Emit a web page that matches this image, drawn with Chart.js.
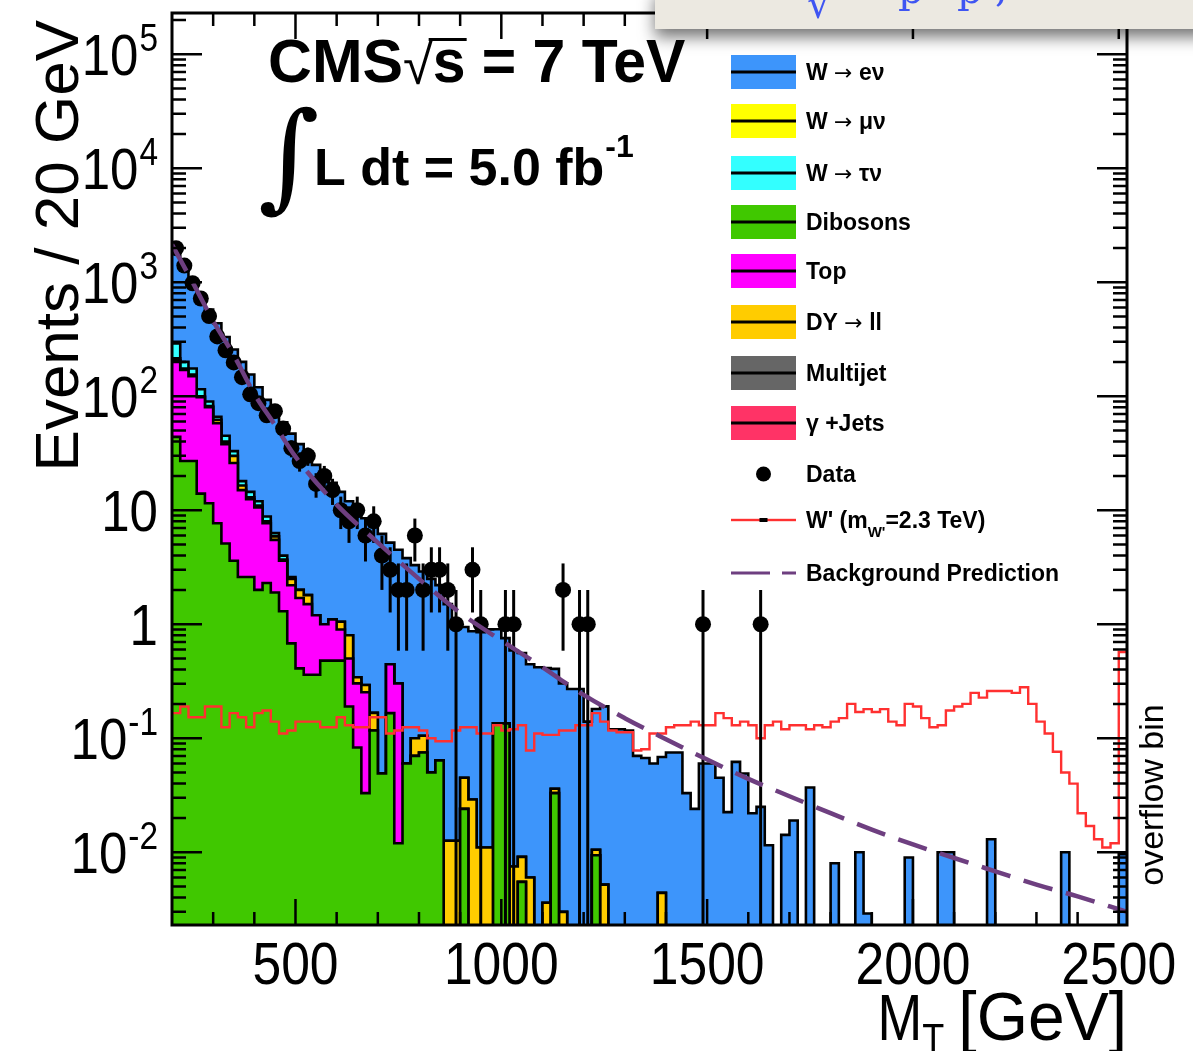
<!DOCTYPE html>
<html>
<head>
<meta charset="utf-8">
<script src="https://cdn.jsdelivr.net/npm/chart.js@4.4.1/dist/chart.umd.min.js"></script>
<style>
  html, body { margin: 0; padding: 0; background: #fff; }
  #wrap { position: relative; width: 1193px; height: 1051px; overflow: hidden; }
  #mt { position: absolute; left: 0; top: 0; }
  #slide {
    position: absolute; left: 655px; top: -12px; width: 560px; height: 41px;
    background: #ece9e1; box-shadow: 0 8px 16px rgba(0,0,0,0.55); overflow: hidden;
  }
  #slide span { position: absolute; color: #3f55f2; font-family: 'DejaVu Serif', serif; font-size: 40px; line-height: 40px; }
</style>
</head>
<body>
<div id="wrap">
  <canvas id="mt" width="1193" height="1051"></canvas>
  <div id="slide">
    <span style="left:152px; top:-4px">√</span>
    <span style="left:243px; top:-19px">p</span>
    <span style="left:302px; top:-19px">p</span>
    <span style="left:340px; top:-21px">,</span>
  </div>
</div>
<script>
// binning: 20 GeV bins from 200 GeV, last bin (2500-2520) holds the overflow
const BIN_LO = 200;
const BIN_W = 20;

const dibosons = [
  44, 27, 27, 14, 11.5, 7.7, 5.1, 3.6, 2.6, 2.6,
  2.0, 2.3, 1.9, 1.3, 0.68, 0.41, 0.36, 0.36, 0.48, 0.48,
  0.48, 0.19, 0.083, 0.033, 0.117, 0.049, 0.166, 0.012, 0.06, 0.07,
  0.075, 0.05, 0.064, 0, 0, 0.024, 0, 0, 0, 0.135,
  0.135, 0, 0.0055, 0, 0, 0, 0.033, 0, 0, 0,
  0, 0.0094, 0, 0, 0, 0, 0, 0, 0, 0,
  0, 0, 0, 0, 0, 0, 0, 0, 0, 0,
  0, 0, 0, 0, 0, 0, 0, 0, 0, 0,
  0, 0, 0, 0, 0, 0, 0, 0, 0, 0,
  0, 0, 0, 0, 0, 0, 0, 0, 0, 0,
  0, 0, 0, 0, 0, 0, 0, 0, 0, 0,
  0, 0, 0, 0, 0, 0
];

const topQuark = [
  163, 143, 123, 84, 68.5, 50.3, 32.9, 22.4, 12.4, 9.9,
  8.6, 5.4, 3.6, 2.3, 1.52, 1.29, 1.14, 0.84, 0.52, 0.62,
  0.42, 0.31, 0.22, 0.22, 0, 0, 0.28, 0.29, 0, 0
];

const dyLL = [
  8, 5, 5, 2, 2, 4, 2, 4, 1.5, 0.5,
  0.4, 0.3, 0.4, 0.1, 0.3, 0.3, 0.3, 0, 0, 0,
  0.15, 0.3, 0.04, 0.04, 0.05, 0, 0, 0, 0, 0.03,
  0.03, 0, 0, 0.0126, 0.0126, 0.021, 0.029, 0.011, 0.011, 0,
  0, 0.0075, 0.0036, 0.006, 0, 0.0036, 0.003, 0.003, 0, 0,
  0, 0.0011, 0.0052, 0, 0, 0, 0, 0, 0, 0.0044
];

const wTauNu = [
  75, 25, 20, 15, 8, 4, 5, 3, 1.5, 1.5,
  1, 0.8, 0.4, 0.3, 0.1
];

const wMuNu = [];
const multijet = [];
const gammaJets = [];

const wENu = [
  1570, 1180, 845, 661, 485, 371, 286, 224, 182, 140.5,
  108, 84.2, 67.7, 55, 44.4, 36, 29.2, 23.8, 20, 16.3,
  13.45, 11.2, 9.66, 8.21, 7.03, 6.15, 4.75, 4.2, 3.74, 3.2,
  2.8, 2.45, 2.14, 1.49, 0.93, 0.9, 0.84, 0.84, 0.89, 0.77,
  0.62, 0.58, 0.55, 0.44, 0.42, 0.41, 0.37, 0.3, 0.27, 0.27,
  0.14, 0.17, 0.185, 0.12, 0.12, 0.117, 0.07, 0.067, 0.06, 0.064,
  0.075, 0.075, 0.033, 0.024, 0.06, 0.06, 0.045, 0.0225, 0.062, 0.049,
  0.022, 0.025, 0.0115, 0, 0.0142, 0.019, 0, 0.037, 0, 0,
  0.008, 0, 0, 0.01, 0.0029, 0, 0, 0, 0, 0.009,
  0, 0, 0, 0.01, 0.01, 0, 0, 0, 0, 0.013,
  0, 0, 0, 0, 0, 0, 0, 0, 0.01, 0,
  0, 0, 0, 0, 0, 0.0096
];

const wPrime = [
  0.166, 0.19, 0.153, 0.153, 0.19, 0.19, 0.125, 0.166, 0.153, 0.125,
  0.166, 0.175, 0.14, 0.11, 0.117, 0.14, 0.14, 0.14, 0.125, 0.125,
  0.153, 0.13, 0.125, 0.125, 0.153, 0.153, 0.11, 0.117, 0.125, 0.125,
  0.117, 0.1, 0.094, 0.094, 0.117, 0.125, 0.125, 0.11, 0.11, 0.13,
  0.117, 0.12, 0.13, 0.078, 0.11, 0.107, 0.107, 0.117, 0.117, 0.13,
  0.13, 0.166, 0.14, 0.117, 0.113, 0.113, 0.078, 0.08, 0.11, 0.11,
  0.125, 0.13, 0.13, 0.14, 0.13, 0.13, 0.166, 0.15, 0.13, 0.14,
  0.13, 0.1, 0.13, 0.14, 0.12, 0.13, 0.13, 0.12, 0.13, 0.125,
  0.14, 0.15, 0.2, 0.17, 0.18, 0.17, 0.18, 0.14, 0.13, 0.2,
  0.19, 0.15, 0.125, 0.13, 0.175, 0.19, 0.2, 0.25, 0.227, 0.26,
  0.26, 0.26, 0.25, 0.28, 0.2, 0.14, 0.11, 0.076, 0.05, 0.04,
  0.022, 0.017, 0.013, 0.011, 0.012, 0.57
];

const dataCounts = [
  1990, 1400, 980, 720, 505, 335, 253, 198, 147, 104,
  87, 68, 74, 52, 35, 27, 30, 17, 20, 15,
  10, 8, 10, 6, 8, 4, 3, 2, 2, 6,
  2, 3, 3, 2, 1, 0, 3, 1, 0, 0,
  1, 1, 0, 0, 0, 0, 0, 2, 0, 1,
  1, 0, 0, 0, 0, 0, 0, 0, 0, 0,
  0, 0, 0, 0, 1, 0, 0, 0, 0, 0,
  0, 1
];

// fitted background prediction, read at a few M_T values
const bkgMt  = [200, 250, 300, 350, 400, 450, 500, 600, 700, 800, 900, 1000, 1100, 1200, 1300,
                1400, 1500, 1600, 1700, 1800, 1900, 2000, 2100, 2200, 2300, 2400, 2520];
const bkgVal = [2140, 1000, 457, 229, 105, 56, 29.5, 11.2, 5.2, 2.5, 1.26, 0.72, 0.42, 0.24, 0.15,
                0.098, 0.065, 0.044, 0.031, 0.022, 0.0158, 0.0117, 0.0089, 0.0068, 0.0052, 0.0041, 0.003];

const xTickLabels = [500, 1000, 1500, 2000, 2500];
const yDecades = [5, 4, 3, 2, 1, 0, -1, -2];

const NB = wPrime.length;
const FLOOR = 1e-6;
const SANS = "'Liberation Sans', Arial, Helvetica, sans-serif";

// stack, bottom to top
const stackParts = [
  { label: 'Dibosons', color: '#40c800', vals: dibosons },
  { label: 'Top', color: '#ff00ff', vals: topQuark },
  { label: 'DY → ll', color: '#ffcc00', vals: dyLL },
  { label: 'W → τν', color: '#33ffff', vals: wTauNu },
  { label: 'W → μν', color: '#ffff00', vals: wMuNu },
  { label: 'Multijet', color: '#666666', vals: multijet },
  { label: 'γ +Jets', color: '#ff3366', vals: gammaJets },
  { label: 'W → eν', color: '#3d95fb', vals: wENu }
];

function stepPoints(vals) {
  const pts = [];
  for (let i = 0; i < NB; i++) {
    const v = vals[i] || 0;
    pts.push({ x: BIN_LO + i * BIN_W, y: v > 0 ? v : FLOOR });
  }
  pts.push({ x: BIN_LO + NB * BIN_W, y: pts[NB - 1].y });
  return pts;
}

const datasets = [];
let running = new Array(NB).fill(0);
stackParts.forEach((p, k) => {
  running = running.map((r, i) => r + (p.vals[i] || 0));
  if (!p.vals.length) return;
  datasets.push({
    label: p.label,
    data: stepPoints(running),
    stepped: 'before',
    fill: 'start',
    backgroundColor: p.color,
    borderColor: '#000',
    borderWidth: 2.6,
    pointRadius: 0,
    order: 20 + k
  });
});

datasets.push({
  label: "W'",
  data: stepPoints(wPrime),
  stepped: 'before',
  fill: false,
  borderColor: '#ff3030',
  borderWidth: 2.4,
  pointRadius: 0,
  order: 5
});

const dataPts = [];
dataCounts.forEach((n, i) => {
  if (n > 0) dataPts.push({ x: BIN_LO + (i + 0.5) * BIN_W, y: n });
});
datasets.push({
  label: 'Data',
  data: dataPts,
  showLine: false,
  pointRadius: 8,
  pointBackgroundColor: '#000',
  pointBorderColor: '#000',
  borderWidth: 0,
  order: 2
});

datasets.push({
  label: 'Background Prediction',
  data: bkgMt.map((m, i) => ({ x: m, y: bkgVal[i] })),
  borderColor: '#6e3f80',
  borderWidth: 4.5,
  borderDash: [30, 14],
  cubicInterpolationMode: 'monotone',
  pointRadius: 0,
  fill: false,
  order: 1
});

// sqrt(N) error bars under the data markers
const errorBars = {
  id: 'errorBars',
  beforeDatasetDraw(chart, args) {
    if (chart.data.datasets[args.index].label !== 'Data') return;
    const ctx = chart.ctx, xs = chart.scales.x, ys = chart.scales.y, a = chart.chartArea;
    ctx.save();
    ctx.beginPath();
    ctx.rect(a.left, a.top, a.right - a.left, a.bottom - a.top);
    ctx.clip();
    ctx.strokeStyle = '#000';
    ctx.lineWidth = 3;
    dataPts.forEach(p => {
      const e = Math.sqrt(p.y);
      const px = xs.getPixelForValue(p.x);
      const hi = ys.getPixelForValue(p.y + e);
      const lo = p.y - e > ys.min ? ys.getPixelForValue(p.y - e) : a.bottom;
      ctx.beginPath();
      ctx.moveTo(px, hi);
      ctx.lineTo(px, lo);
      ctx.stroke();
    });
    ctx.restore();
  }
};

// frame with inward ticks on all four sides
const frame = {
  id: 'frame',
  afterDatasetsDraw(chart) {
    const ctx = chart.ctx, xs = chart.scales.x, ys = chart.scales.y, a = chart.chartArea;
    ctx.save();
    ctx.strokeStyle = '#000';
    ctx.lineWidth = 2.5;
    ctx.beginPath();
    for (let v = 300; v < xs.max; v += 100) {
      const px = xs.getPixelForValue(v);
      const len = v % 500 === 0 ? 26 : 13;
      ctx.moveTo(px, a.bottom); ctx.lineTo(px, a.bottom - len);
      ctx.moveTo(px, a.top); ctx.lineTo(px, a.top + len);
    }
    for (let d = -3; d <= 5; d++) {
      for (let k = 1; k <= 9; k++) {
        const v = k * Math.pow(10, d);
        if (v < ys.min || v > ys.max) continue;
        const py = ys.getPixelForValue(v);
        const len = k === 1 ? 30 : 14;
        ctx.moveTo(a.left, py); ctx.lineTo(a.left + len, py);
        ctx.moveTo(a.right, py); ctx.lineTo(a.right - len, py);
      }
    }
    ctx.stroke();
    ctx.lineWidth = 3;
    ctx.strokeRect(a.left, a.top, a.right - a.left, a.bottom - a.top);
    ctx.restore();
  }
};

function put(ctx, str, x, y, font, align, sx) {
  ctx.save();
  ctx.font = font;
  ctx.translate(x, y);
  ctx.scale(sx || 1, 1);
  ctx.textAlign = align || 'left';
  ctx.textBaseline = 'alphabetic';
  ctx.fillText(str, 0, 0);
  const w = ctx.measureText(str).width * (sx || 1);
  ctx.restore();
  return w;
}

function powLabel(ctx, e, right, base) {
  const big = '58px ' + SANS, small = '38px ' + SANS;
  if (e === 0) { put(ctx, '1', right, base, big, 'right', 0.88); return; }
  if (e === 1) { put(ctx, '10', right, base, big, 'right', 0.88); return; }
  const ew = put(ctx, String(e), right, base - 24, small, 'right', 0.88);
  put(ctx, '10', right - ew - 1, base, big, 'right', 0.88);
}

// legend text: process labels are split so the arrow can use a fuller glyph
const legendRows = [
  { y: 72, kind: 'box', part: 7, text: ['W ', '→', ' eν'] },
  { y: 121, kind: 'box', part: 4, text: ['W ', '→', ' μν'] },
  { y: 173, kind: 'box', part: 3, text: ['W ', '→', ' τν'] },
  { y: 222, kind: 'box', part: 0, text: ['Dibosons'] },
  { y: 271, kind: 'box', part: 1, text: ['Top'] },
  { y: 322, kind: 'box', part: 2, text: ['DY ', '→', ' ll'] },
  { y: 373, kind: 'box', part: 5, text: ['Multijet'] },
  { y: 423, kind: 'box', part: 6, text: ['γ +Jets'] },
  { y: 474, kind: 'dot', text: ['Data'] },
  { y: 520, kind: 'red' },
  { y: 573, kind: 'dash', text: ['Background Prediction'] }
];

const labels = {
  id: 'labels',
  afterDraw(chart) {
    const ctx = chart.ctx, xs = chart.scales.x, ys = chart.scales.y;
    ctx.save();
    ctx.fillStyle = '#000';

    xTickLabels.forEach(v => put(ctx, String(v), xs.getPixelForValue(v), 984, '60px ' + SANS, 'center', 0.86));
    yDecades.forEach(e => powLabel(ctx, e, 158, ys.getPixelForValue(Math.pow(10, e)) + 21));

    // axis titles
    ctx.save();
    ctx.translate(78, 20);
    ctx.rotate(-Math.PI / 2);
    ctx.font = '62px ' + SANS;
    ctx.textAlign = 'right';
    ctx.fillText('Events / 20 GeV', 0, 0);
    ctx.restore();

    const gw = put(ctx, '[GeV]', 1127, 1040, '68px ' + SANS, 'right', 0.97);
    const tw = put(ctx, 'T', 1127 - gw - 14, 1052, '40px ' + SANS, 'right', 0.9);
    put(ctx, 'M', 1127 - gw - 14 - tw, 1040, '64px ' + SANS, 'right', 0.84);

    ctx.save();
    ctx.translate(1163, 795);
    ctx.rotate(-Math.PI / 2);
    ctx.font = '34px ' + SANS;
    ctx.textAlign = 'center';
    ctx.fillText('overflow bin', 0, 0);
    ctx.restore();

    // experiment label
    const cw = put(ctx, 'CMS', 268, 82, 'bold 62px ' + SANS, 'left', 0.98);
    const rw = put(ctx, '√', 268 + cw, 84, '54px ' + SANS, 'left', 1);
    ctx.fillRect(268 + cw + rw - 4, 38, 38, 3);
    put(ctx, 's = 7 TeV', 268 + cw + rw, 82, 'bold 62px ' + SANS, 'left', 0.95);
    put(ctx, '∫', 258, 196, '118px DejaVu Serif', 'left', 1);
    const lw = put(ctx, 'L dt = 5.0 fb', 314, 185, 'bold 52px ' + SANS, 'left', 1);
    put(ctx, '-1', 314 + lw + 1, 157, 'bold 32px ' + SANS, 'left', 1);

    // legend
    const bx = 731, bw = 65, bh = 34, tx = 806, font = 'bold 23px ' + SANS;
    legendRows.forEach(r => {
      if (r.kind === 'box') {
        ctx.fillStyle = stackParts[r.part].color;
        ctx.fillRect(bx, r.y - bh / 2, bw, bh);
        ctx.fillStyle = '#000';
        ctx.fillRect(bx, r.y - 1.5, bw, 3);
      } else if (r.kind === 'dot') {
        ctx.beginPath();
        ctx.arc(bx + bw / 2, r.y, 7.5, 0, Math.PI * 2);
        ctx.fill();
      } else if (r.kind === 'red') {
        ctx.fillStyle = '#ff3030';
        ctx.fillRect(bx, r.y - 1.2, bw, 2.4);
        ctx.fillStyle = '#000';
        ctx.fillRect(bx + bw / 2 - 4, r.y - 2, 8, 4);
      } else if (r.kind === 'dash') {
        ctx.fillStyle = '#6e3f80';
        ctx.fillRect(bx, r.y - 1.5, 39, 3);
        ctx.fillRect(bx + 51, r.y - 1.5, 14, 3);
        ctx.fillStyle = '#000';
      }
      if (r.text) {
        let x = tx;
        r.text.forEach(s => {
          const f = s === '→' ? '22px DejaVu Sans' : font;
          x += put(ctx, s, x, r.y + 8, f, 'left', 1);
        });
      }
    });
    // W' entry with subscript mass label
    let x = tx;
    x += put(ctx, "W' (m", x, 528, font, 'left', 1);
    x += put(ctx, "W'", x, 537, 'bold 15px ' + SANS, 'left', 1);
    put(ctx, '=2.3 TeV)', x, 528, font, 'left', 1);

    ctx.restore();
  }
};

new Chart(document.getElementById('mt'), {
  type: 'line',
  data: { datasets },
  options: {
    responsive: false,
    animation: false,
    devicePixelRatio: 1,
    layout: { padding: { left: 172, right: 66, top: 13, bottom: 126 } },
    plugins: { legend: { display: false }, tooltip: { enabled: false } },
    scales: {
      x: { type: 'linear', min: 200, max: 2520, display: false },
      y: { type: 'logarithmic', min: 0.0023, max: 2.3e5, display: false }
    }
  },
  plugins: [errorBars, frame, labels]
});
</script>
</body>
</html>
